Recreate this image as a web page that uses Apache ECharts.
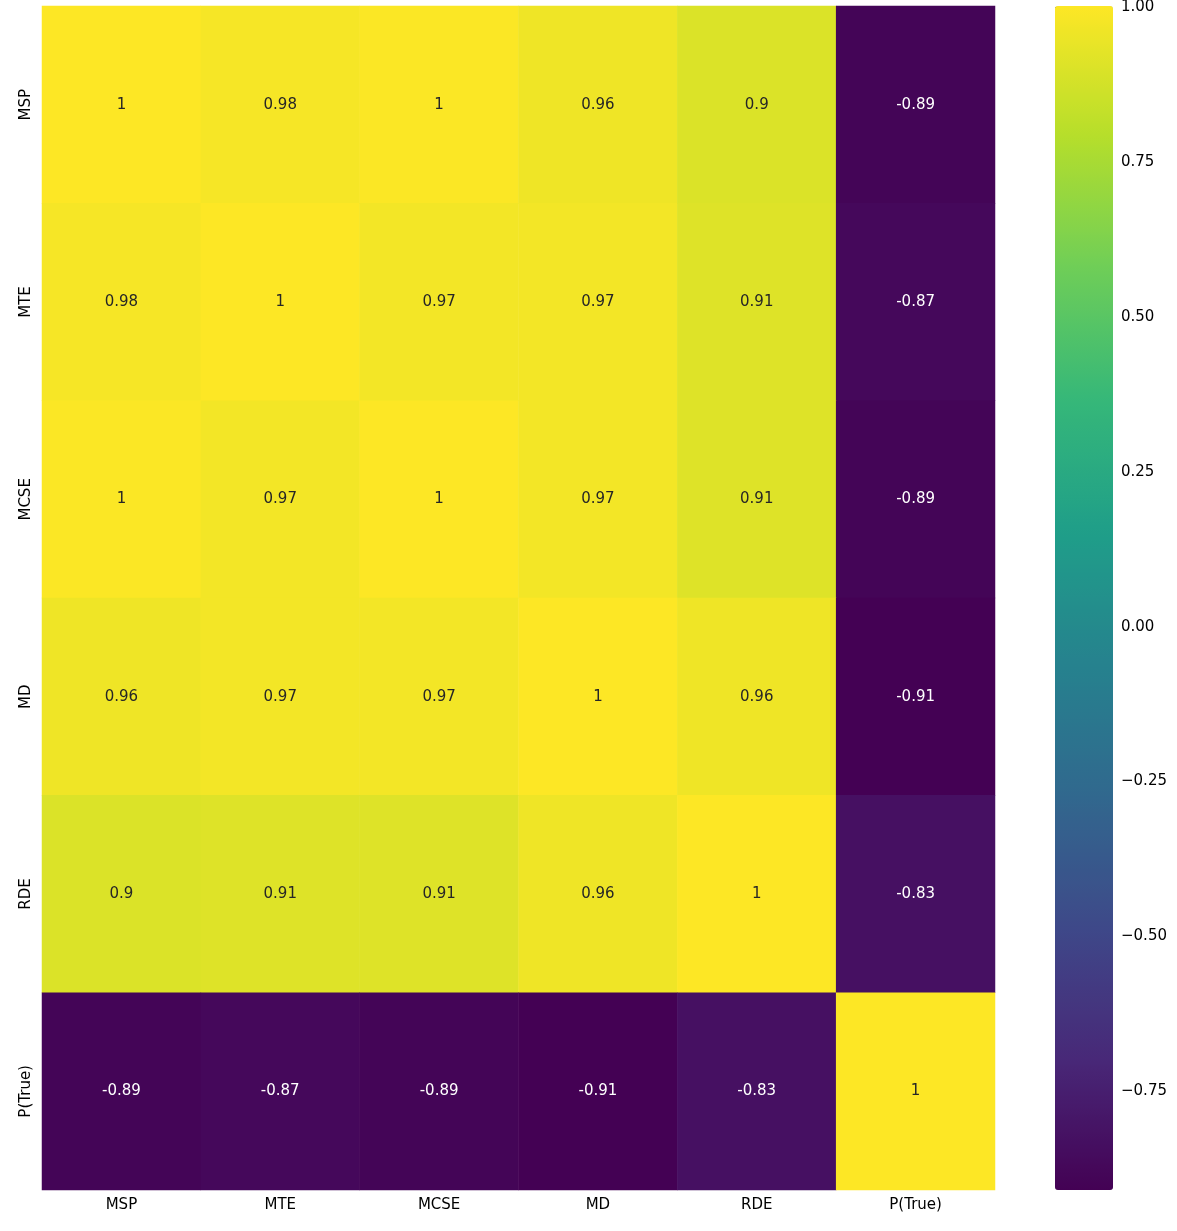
<!DOCTYPE html><html><head><meta charset="utf-8"><script src="https://cdn.jsdelivr.net/npm/echarts@6/dist/echarts.min.js"></script></head><body style="margin:0;background:#fff"><div id="c" style="width:1177px;height:1231px"></div><script>
const categories=['MSP','MTE','MCSE','MD','RDE','P(True)'];
const labels=[
['1','0.98','1','0.96','0.9','-0.89'],
['0.98','1','0.97','0.97','0.91','-0.87'],
['1','0.97','1','0.97','0.91','-0.89'],
['0.96','0.97','0.97','1','0.96','-0.91'],
['0.9','0.91','0.91','0.96','1','-0.83'],
['-0.89','-0.87','-0.89','-0.91','-0.83','1']];
const values=[
[1,0.98,0.995,0.96,0.9,-0.89],
[0.98,1,0.97,0.97,0.91,-0.87],
[0.995,0.97,1,0.97,0.91,-0.89],
[0.96,0.97,0.97,1,0.96,-0.91],
[0.9,0.91,0.91,0.96,1,-0.83],
[-0.89,-0.87,-0.89,-0.91,-0.83,1]];
const cbTicks=[-0.75,-0.5,-0.25,0,0.25,0.5,0.75,1];
const viridis=['#440154','#482878','#3e4989','#31688e','#26828e','#1f9e89','#35b779','#6ece58','#b5de2b','#fde725'];
const data=[];
values.forEach((row,i)=>row.forEach((v,j)=>data.push({value:[j,i,v],label:{formatter:labels[i][j],color:v<0?'#fff':'#262626'}})));
echarts.init(document.getElementById('c')).setOption({
animation:false,
grid:[{left:42,top:6,width:953,height:1184},{left:1055,top:6,width:58,height:1184}],
xAxis:[{type:'category',data:categories,gridIndex:0,axisLine:{show:false},axisTick:{length:5,lineStyle:{color:'#000'}},axisLabel:{color:'#000',fontSize:15,fontFamily:'DejaVu Sans'}},
{type:'value',gridIndex:1,show:false}],
yAxis:[{type:'category',data:categories,inverse:true,gridIndex:0,axisLine:{show:false},axisTick:{length:5,lineStyle:{color:'#000'}},axisLabel:{rotate:90,color:'#000',fontSize:15,fontFamily:'DejaVu Sans'}},
{type:'value',gridIndex:1,position:'right',min:-0.91,max:1,splitLine:{show:false},axisLine:{show:false},
axisTick:{show:true,length:5,customValues:cbTicks,lineStyle:{color:'#000'}},
axisLabel:{customValues:cbTicks,color:'#000',fontSize:15,fontFamily:'DejaVu Sans',formatter:v=>(v<0?'\u2212':'')+Math.abs(v).toFixed(2)}}],
visualMap:{type:'continuous',min:-0.91,max:1,seriesIndex:0,inRange:{color:viridis},left:1055,top:6,itemWidth:58,itemHeight:1184,padding:0,text:null,showLabel:false,calculable:false,hoverLink:false},
series:[{type:'heatmap',data,label:{show:true,fontSize:15,fontFamily:'DejaVu Sans'},emphasis:{disabled:true}}]
});
</script></body></html>
